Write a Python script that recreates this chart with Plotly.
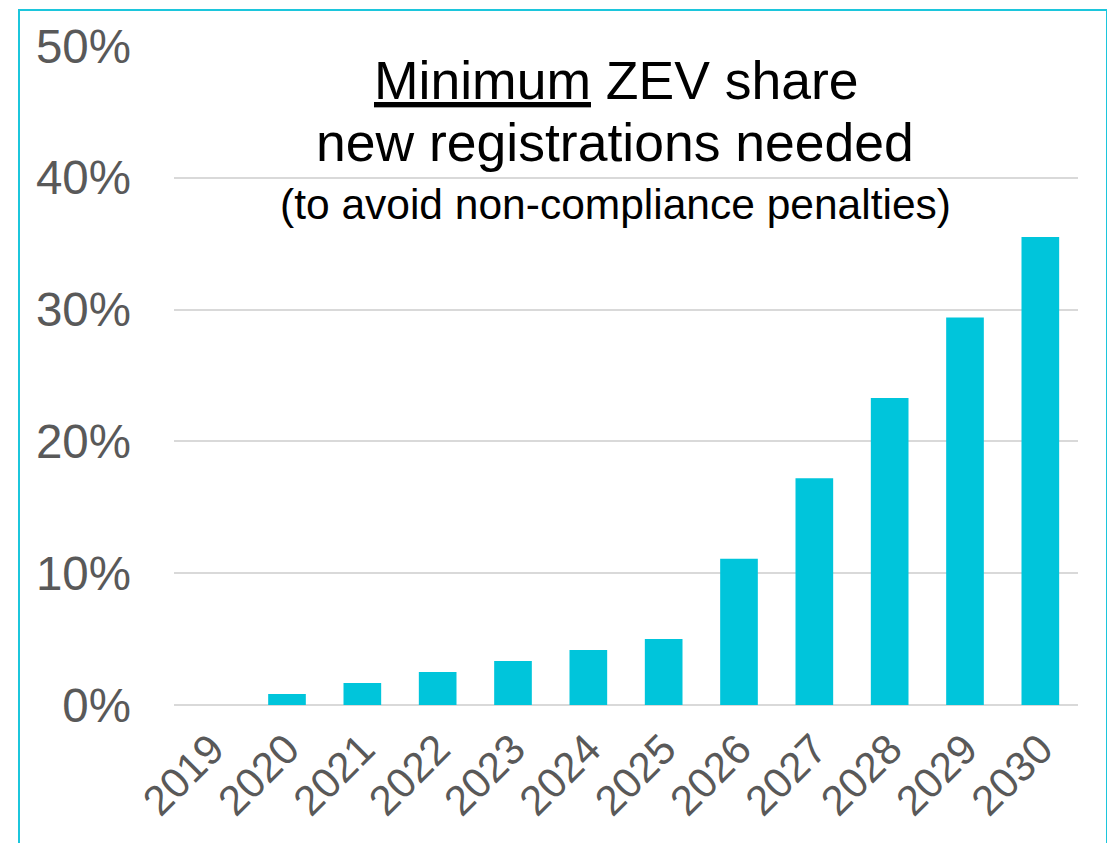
import plotly.graph_objects as go

years = ["2019", "2020", "2021", "2022", "2023", "2024", "2025",
         "2026", "2027", "2028", "2029", "2030"]
zev_share = [0.0, 0.0083, 0.0167, 0.025, 0.0333, 0.0417, 0.05,
             0.111, 0.172, 0.233, 0.294, 0.355]
y_ticks = [0, 0.1, 0.2, 0.3, 0.4, 0.5]
y_tick_labels = ["0%", "10%", "20%", "30%", "40%", "50%"]

FONT = "Liberation Sans, Arial, sans-serif"
BAR = "#00C5DB"

fig = go.Figure(go.Bar(x=years, y=zev_share, marker=dict(color=BAR, line=dict(width=0)),
                       hoverinfo="x+y"))

OFF = 8  # page body margin
W, H = 1115, 843
# target plot area in page pixels: x 174..1078, y 46..705
PX0, PX1, PY0, PY1 = 174, 1078, 46, 705
L = PX0 - OFF
T = PY0 - OFF
pw, ph = PX1 - PX0, PY1 - PY0
R = W - L - pw
B = H - T - ph

def px(x):
    return (x - PX0) / pw

def py(y):
    return (PY1 - y) / ph

fig.update_layout(
    width=W, height=H,
    margin=dict(l=L, r=R, t=T, b=B, pad=0, autoexpand=False),
    paper_bgcolor="white", plot_bgcolor="white",
    bargap=0.5, showlegend=False,
    font=dict(family=FONT, color="#595959"),
    xaxis=dict(type="category", tickangle=-45, tickfont=dict(size=42, color="#595959"),
               showgrid=False, showline=False, ticks="", ticklabelstandoff=10,
               automargin=False),
    yaxis=dict(range=[0, 0.5], tickvals=y_ticks, ticktext=y_tick_labels,
               tickfont=dict(size=47.5, color="#595959"),
               showgrid=True, gridcolor="#D9D9D9", gridwidth=2,
               zeroline=True, zerolinecolor="#D9D9D9", zerolinewidth=2,
               showline=False, ticks="", ticklabelstandoff=42, automargin=False),
    shapes=[dict(type="rect", xref="paper", yref="paper",
                 x0=px(19), x1=px(1107), y0=py(900), y1=py(10),
                 line=dict(color="#1CC6DC", width=2), fillcolor="rgba(0,0,0,0)", layer="above")],
    annotations=[
        dict(text="<u>Minimum</u> ZEV share", x=px(616), y=py(80), xref="paper", yref="paper",
             showarrow=False, xanchor="center", yanchor="middle",
             font=dict(size=53.5, color="black", family=FONT)),
        dict(text="new registrations needed", x=px(615), y=py(143), xref="paper", yref="paper",
             showarrow=False, xanchor="center", yanchor="middle",
             font=dict(size=53.5, color="black", family=FONT)),
        dict(text="(to avoid non-compliance penalties)", x=px(615), y=py(205), xref="paper", yref="paper",
             showarrow=False, xanchor="center", yanchor="middle",
             font=dict(size=42.5, color="black", family=FONT)),
    ],
)

fig.write_html("out.html")
